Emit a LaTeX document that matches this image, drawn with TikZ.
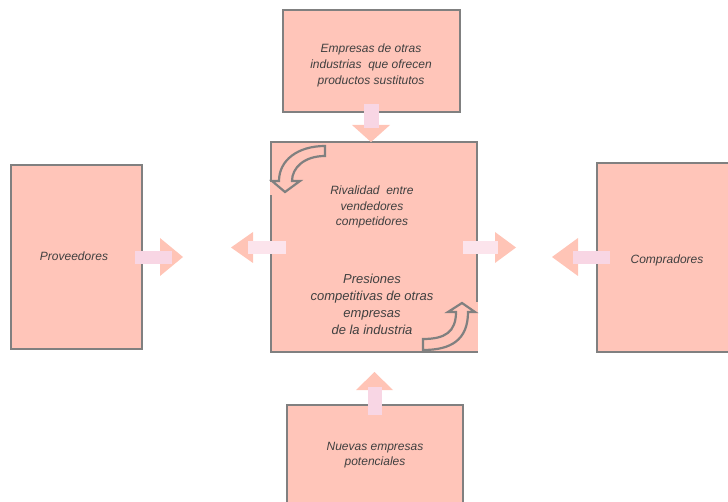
\documentclass[tikz,border=0pt]{standalone}
\usepackage{fontspec}
\setmainfont{Liberation Sans}
\definecolor{boxfill}{RGB}{255,197,185}
\definecolor{headfill}{RGB}{255,196,182}
\definecolor{bordergray}{RGB}{128,128,128}
\definecolor{shaftA}{RGB}{248,214,228}
\definecolor{shaftB}{RGB}{252,228,236}
\definecolor{txt}{RGB}{64,64,64}
\begin{document}
\begin{tikzpicture}[x=1pt,y=-1pt,
  box/.style={draw=bordergray, line width=2.5pt, fill=boxfill, inner sep=0pt},
  lbl/.style={text=txt, font=\itshape\fontsize{12}{16}\selectfont, align=center, inner sep=0pt},
  lblb/.style={text=txt, font=\itshape\fontsize{13}{17}\selectfont, align=center, inner sep=0pt},
  curv/.style={draw=bordergray, line width=2.2pt, fill=boxfill, line join=miter}]
\useasboundingbox (0,0) rectangle (728,502);
\clip (0,0) rectangle (728,502);
% boxes
\node[box, minimum width=177pt, minimum height=102pt] (sust) at (371.5,61) {};
\node[box, minimum width=206pt, minimum height=210pt] (riv) at (374,247) {};
\node[box, minimum width=131pt, minimum height=184pt] (prov) at (76.5,257) {};
\node[box, minimum width=163pt, minimum height=189pt] (comp) at (678.5,257.5) {};
\node[box, minimum width=176pt, minimum height=135pt] (nuev) at (375,472.5) {};
% hide parts of the centre border
\fill[boxfill] (440,302) rectangle (478.3,350.7);
\fill[boxfill] (269.7,182) rectangle (273,195);
% curved arrows inside centre box
\draw[curv] (325,146) .. controls (298,146) and (279,160) .. (279,181)
  -- (272,181) -- (285,192) -- (300,181) -- (292,181)
  .. controls (292,168) and (304,156) .. (325,156) -- cycle;
\draw[curv] (423,350) .. controls (451,350) and (468,340) .. (468,312)
  -- (475,312) -- (462,303) -- (448,312) -- (456,312)
  .. controls (456,332) and (445,339) .. (423,339) -- cycle;
% block arrows
% top (down)
\fill[headfill] (352,125) -- (390,125) -- (371,142) -- cycle;
\fill[shaftA] (364,104) rectangle (379,128);
% proveedores (right)
\fill[headfill] (160,238) -- (160,276) -- (183,257) -- cycle;
\fill[shaftA] (135,251) rectangle (172,264);
% centre to left
\fill[headfill] (253,232) -- (253,263) -- (231,247.5) -- cycle;
\fill[shaftB] (248,241) rectangle (286,254);
% centre to right
\fill[headfill] (495,232) -- (495,263) -- (516,247.5) -- cycle;
\fill[shaftB] (463,241) rectangle (498,254);
% compradores (left)
\fill[headfill] (578,238) -- (578,276) -- (552,257) -- cycle;
\fill[shaftA] (573,251) rectangle (610,264);
% bottom (up)
\fill[headfill] (356,390) -- (393,390) -- (374.5,372) -- cycle;
\fill[shaftA] (368,387) rectangle (382,415);
% texts
\node[lbl] (tsust) at (371,65) {Empresas de otras\\industrias~ que ofrecen\\productos sustitutos};
\node[lbl, font=\itshape\fontsize{12}{15.5}\selectfont] (triv) at (372,207) {Rivalidad~ entre\\vendedores\\competidores};
\node[lblb] (tpres) at (372,304) {Presiones\\competitivas de otras\\empresas\\de la industria};
\node[lbl] (tprov) at (74,256) {Proveedores};
\node[lbl] (tcomp) at (667,260) {Compradores};
\node[lbl, font=\itshape\fontsize{12}{15}\selectfont] (tnuev) at (375,455) {Nuevas empresas\\potenciales};
\end{tikzpicture}
\end{document}
